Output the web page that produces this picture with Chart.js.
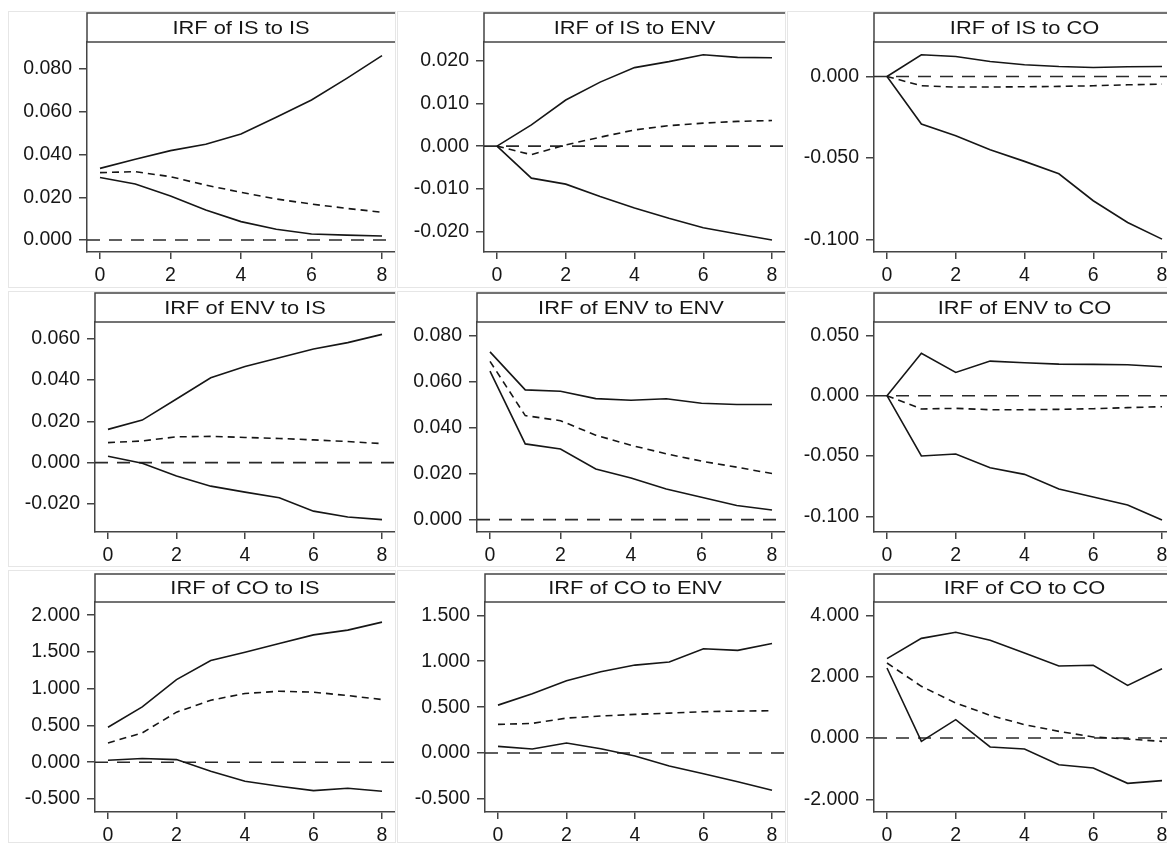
<!DOCTYPE html>
<html>
<head>
<meta charset="utf-8">
<script src="https://cdn.jsdelivr.net/npm/chart.js@4.4.1/dist/chart.umd.min.js"></script>
<style>
    body { margin: 0; width: 1167px; height: 843px; overflow: hidden; background: #fff; position: relative; }
    .panel { position: absolute; border: 1px solid #e6e6e6; box-sizing: border-box; }
    canvas { position: absolute; }
</style>
</head>
<body>
<script>
// horizon steps and x ticks
const steps = [0, 1, 2, 3, 4, 5, 6, 7, 8];
const xTicks = [0, 2, 4, 6, 8];

// IRF of IS to IS
const isIsUpper = [0.0335, 0.0378, 0.0418, 0.0448, 0.0496, 0.0574, 0.0655, 0.0756, 0.0862];
const isIsIrf = [0.0315, 0.0320, 0.0296, 0.0257, 0.0223, 0.0192, 0.0168, 0.0148, 0.0130];
const isIsLower = [0.0292, 0.0262, 0.0206, 0.0140, 0.0086, 0.0050, 0.0028, 0.0023, 0.0019];
const isIsTicks = [0, 0.02, 0.04, 0.06, 0.08];

// IRF of IS to ENV
const isEnvUpper = [0, 0.0050, 0.0108, 0.0150, 0.0184, 0.0198, 0.0214, 0.0208, 0.0207];
const isEnvIrf = [0, -0.0020, 0.0003, 0.0021, 0.0038, 0.0048, 0.0054, 0.0058, 0.0060];
const isEnvLower = [0, -0.0075, -0.0089, -0.0118, -0.0145, -0.0169, -0.0191, -0.0206, -0.0220];
const isEnvTicks = [-0.02, -0.01, 0, 0.01, 0.02];

// IRF of IS to CO
const isCoUpper = [0, 0.0133, 0.0122, 0.0092, 0.0072, 0.0061, 0.0055, 0.0059, 0.0061];
const isCoIrf = [0, -0.0057, -0.0065, -0.0065, -0.0063, -0.0061, -0.0057, -0.0051, -0.0047];
const isCoLower = [0, -0.0291, -0.0363, -0.0449, -0.0520, -0.0596, -0.0761, -0.0894, -0.0996];
const isCoTicks = [-0.1, -0.05, 0];

// IRF of ENV to IS
const envIsUpper = [0.0161, 0.0206, 0.0308, 0.0411, 0.0466, 0.0508, 0.0550, 0.0581, 0.0621];
const envIsIrf = [0.0097, 0.0105, 0.0125, 0.0127, 0.0122, 0.0117, 0.0110, 0.0102, 0.0092];
const envIsLower = [0.0031, -0.0003, -0.0065, -0.0114, -0.0143, -0.0170, -0.0235, -0.0263, -0.0276];
const envIsTicks = [-0.02, 0, 0.02, 0.04, 0.06];

// IRF of ENV to ENV
const envEnvUpper = [0.0729, 0.0564, 0.0558, 0.0526, 0.0519, 0.0525, 0.0506, 0.0500, 0.0500];
const envEnvIrf = [0.0688, 0.0452, 0.0430, 0.0367, 0.0323, 0.0286, 0.0254, 0.0228, 0.0200];
const envEnvLower = [0.0645, 0.0329, 0.0307, 0.0220, 0.0181, 0.0133, 0.0097, 0.0061, 0.0042];
const envEnvTicks = [0, 0.02, 0.04, 0.06, 0.08];

// IRF of ENV to CO
const envCoUpper = [0, 0.0351, 0.0193, 0.0287, 0.0273, 0.0262, 0.0260, 0.0257, 0.0240];
const envCoIrf = [0, -0.0110, -0.0105, -0.0116, -0.0116, -0.0113, -0.0108, -0.0099, -0.0091];
const envCoLower = [0, -0.0500, -0.0483, -0.0597, -0.0652, -0.0773, -0.0840, -0.0906, -0.1030];
const envCoTicks = [-0.1, -0.05, 0, 0.05];

// IRF of CO to IS
const coIsUpper = [0.476, 0.753, 1.125, 1.384, 1.497, 1.615, 1.733, 1.797, 1.906];
const coIsIrf = [0.263, 0.399, 0.681, 0.844, 0.935, 0.966, 0.953, 0.907, 0.853];
const coIsLower = [0.027, 0.050, 0.036, -0.123, -0.259, -0.327, -0.386, -0.354, -0.395];
const coIsTicks = [-0.5, 0, 0.5, 1, 1.5, 2];

// IRF of CO to ENV
const coEnvUpper = [0.522, 0.646, 0.787, 0.885, 0.958, 0.991, 1.136, 1.118, 1.194];
const coEnvIrf = [0.312, 0.323, 0.381, 0.403, 0.421, 0.435, 0.450, 0.457, 0.461];
const coEnvLower = [0.073, 0.044, 0.109, 0.047, -0.033, -0.142, -0.225, -0.312, -0.406];
const coEnvTicks = [-0.5, 0, 0.5, 1, 1.5];

// IRF of CO to CO
const coCoUpper = [2.587, 3.250, 3.446, 3.185, 2.772, 2.348, 2.370, 1.717, 2.261];
const coCoIrf = [2.446, 1.685, 1.141, 0.739, 0.435, 0.217, 0.033, -0.033, -0.109];
const coCoLower = [2.283, -0.109, 0.598, -0.293, -0.359, -0.870, -0.978, -1.478, -1.391];
const coCoTicks = [-2, 0, 2, 4];

const panels = [
    { title: "IRF of IS to IS", upper: isIsUpper, irf: isIsIrf, lower: isIsLower, ticks: isIsTicks, yMin: -0.0056, yMax: 0.0926 },
    { title: "IRF of IS to ENV", upper: isEnvUpper, irf: isEnvIrf, lower: isEnvLower, ticks: isEnvTicks, yMin: -0.0248, yMax: 0.0244 },
    { title: "IRF of IS to CO", upper: isCoUpper, irf: isCoIrf, lower: isCoLower, ticks: isCoTicks, yMin: -0.1075, yMax: 0.0211 },
    { title: "IRF of ENV to IS", upper: envIsUpper, irf: envIsIrf, lower: envIsLower, ticks: envIsTicks, yMin: -0.0336, yMax: 0.0681 },
    { title: "IRF of ENV to ENV", upper: envEnvUpper, irf: envEnvIrf, lower: envEnvLower, ticks: envEnvTicks, yMin: -0.0054, yMax: 0.0859 },
    { title: "IRF of ENV to CO", upper: envCoUpper, irf: envCoIrf, lower: envCoLower, ticks: envCoTicks, yMin: -0.113, yMax: 0.0611 },
    { title: "IRF of CO to IS", upper: coIsUpper, irf: coIsIrf, lower: coIsLower, ticks: coIsTicks, yMin: -0.677, yMax: 2.18 },
    { title: "IRF of CO to ENV", upper: coEnvUpper, irf: coEnvIrf, lower: coEnvLower, ticks: coEnvTicks, yMin: -0.642, yMax: 1.645 },
    { title: "IRF of CO to CO", upper: coCoUpper, irf: coCoIrf, lower: coCoLower, ticks: coCoTicks, yMin: -2.413, yMax: 4.435 }
];

// page geometry of the 3x3 grid
const colLeft = [8, 397, 787];
const colRight = [396, 786, 1176];
const plotRight = [395, 785, 1175];
const rowTop = [11, 291, 570];
const rowBottom = [288, 567, 843];
const boxTop = [13, 293, 574];
const plotTop = [42, 322, 602];
const plotBottom = [252, 532, 812];
const axisLeft = [[87, 484, 874], [95, 477, 874], [95, 485, 874]];

const ink = "#161616";
const axisInk = "#444";
const fontFamily = "'Liberation Sans', Arial, sans-serif";

const stripTitle = {
    id: "stripTitle",
    afterDraw(chart, args, opts) {
        const ctx = chart.ctx;
        const area = chart.chartArea;
        ctx.save();
        ctx.strokeStyle = axisInk;
        ctx.lineWidth = 1.5;
        ctx.strokeRect(area.left, opts.top, area.right - area.left + 2, area.top - opts.top);
        ctx.fillStyle = ink;
        ctx.font = "19px " + fontFamily;
        ctx.textAlign = "center";
        ctx.textBaseline = "middle";
        ctx.translate((area.left + area.right) / 2, (opts.top + area.top) / 2 + 1);
        ctx.scale(1.15, 1);
        ctx.fillText(opts.text, 0, 0);
        ctx.restore();
    }
};

const zeroLine = {
    id: "zeroLine",
    beforeDatasetsDraw(chart) {
        const ctx = chart.ctx;
        const area = chart.chartArea;
        const y = chart.scales.y.getPixelForValue(0);
        ctx.save();
        ctx.strokeStyle = "#2a2a2a";
        ctx.lineWidth = 1.6;
        ctx.setLineDash([13, 9]);
        ctx.beginPath();
        ctx.moveTo(area.left, y);
        ctx.lineTo(area.right, y);
        ctx.stroke();
        ctx.restore();
    }
};

function lineSet(values, dashed) {
    return {
        data: steps.map((s, i) => ({ x: s, y: values[i] })),
        borderColor: ink,
        borderWidth: 1.6,
        borderDash: dashed ? [7, 5] : [],
        pointRadius: 0,
        tension: 0,
        fill: false
    };
}

panels.forEach((p, idx) => {
    const r = Math.floor(idx / 3);
    const c = idx % 3;

    const frame = document.createElement("div");
    frame.className = "panel";
    frame.style.left = colLeft[c] + "px";
    frame.style.top = rowTop[r] + "px";
    frame.style.width = (colRight[c] - colLeft[c]) + "px";
    frame.style.height = (rowBottom[r] - rowTop[r]) + "px";
    document.body.appendChild(frame);

    const canvas = document.createElement("canvas");
    const w = plotRight[c] - colLeft[c];
    const h = rowBottom[r] - rowTop[r];
    canvas.width = w;
    canvas.height = h;
    canvas.style.left = colLeft[c] + "px";
    canvas.style.top = rowTop[r] + "px";
    canvas.style.width = w + "px";
    canvas.style.height = h + "px";
    document.body.appendChild(canvas);

    const yWidth = axisLeft[r][c] - colLeft[c];
    const xHeight = rowBottom[r] - plotBottom[r];
    const plotWidth = plotRight[c] - axisLeft[r][c];
    const pad = 8 * 13 / (plotWidth - 26);

    new Chart(canvas.getContext("2d"), {
        type: "line",
        data: {
            datasets: [lineSet(p.upper, false), lineSet(p.lower, false), lineSet(p.irf, true)]
        },
        options: {
            responsive: false,
            animation: false,
            devicePixelRatio: 1,
            layout: { padding: { top: plotTop[r] - rowTop[r], left: 0, right: 0, bottom: 0 } },
            plugins: {
                legend: { display: false },
                tooltip: { enabled: false },
                stripTitle: { text: p.title, top: boxTop[r] - rowTop[r] }
            },
            scales: {
                x: {
                    type: "linear",
                    min: -pad,
                    max: 8 + pad,
                    afterBuildTicks: s => { s.ticks = xTicks.map(v => ({ value: v })); },
                    afterFit: s => { s.height = xHeight; s.paddingLeft = 0; s.paddingRight = 0; },
                    grid: { drawOnChartArea: false, drawTicks: true, tickLength: 7, color: axisInk, lineWidth: 1.5 },
                    border: { display: true, color: axisInk, width: 1.5 },
                    ticks: { color: ink, padding: 5, maxRotation: 0, font: { family: fontFamily, size: 19.5 } }
                },
                y: {
                    min: p.yMin,
                    max: p.yMax,
                    afterBuildTicks: s => { s.ticks = p.ticks.map(v => ({ value: v })); },
                    afterFit: s => { s.width = yWidth; s.paddingTop = 0; s.paddingBottom = 0; },
                    grid: { drawOnChartArea: false, drawTicks: true, tickLength: 8, color: axisInk, lineWidth: 1.5 },
                    border: { display: true, color: axisInk, width: 1.5 },
                    ticks: {
                        color: ink,
                        padding: 7,
                        font: { family: fontFamily, size: 19.5 },
                        callback: v => v.toFixed(3)
                    }
                }
            }
        },
        plugins: [zeroLine, stripTitle]
    });
});
</script>
</body>
</html>
